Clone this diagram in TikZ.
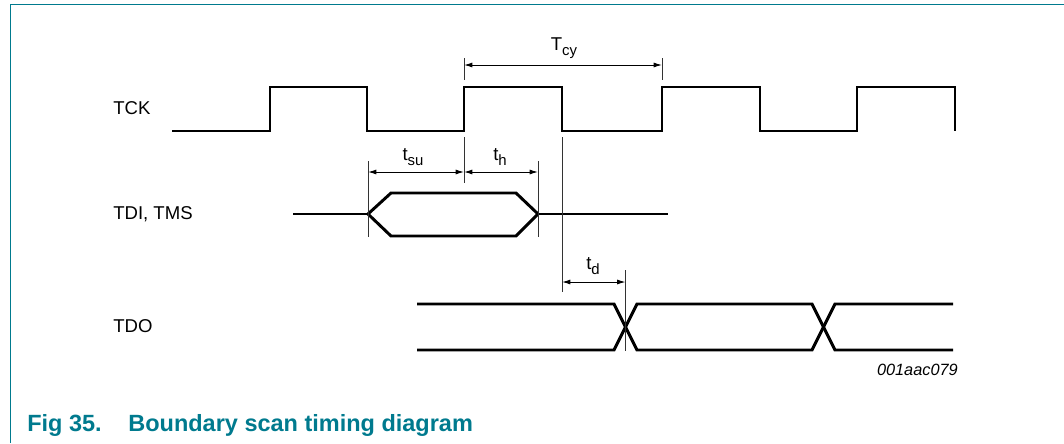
\documentclass[tikz,border=0pt]{standalone}
\usepackage{fontspec}
\setmainfont{Liberation Sans}
\definecolor{nxpteal}{RGB}{0, 122, 142}
\usetikzlibrary{arrows.meta, positioning}
\newcommand{\lowsub}[1]{\raisebox{-3.6pt}{\fontsize{10.6}{12}\selectfont #1}}

\begin{document}
\begin{tikzpicture}[x=0.025cm, y=-0.025cm,
    signal/.style={line width=2.1pt},
    guide/.style={line width=0.7pt, black!80},
    dim/.style={line width=0.7pt, {Latex[length=6pt,width=3.6pt]}-{Latex[length=6pt,width=3.6pt]}},
    sig/.style={font=\fontsize{13.2}{15}\selectfont, anchor=west, inner sep=0pt},
    lbl/.style={font=\fontsize{13.2}{15}\selectfont, inner sep=0pt}]
    \useasboundingbox (0,0) rectangle (1064,443);
    % frame
    \draw[nxpteal, line width=1.4pt] (10.5,443) -- (10.5,4.5) -- (1064,4.5);
    % signal names
    \node[sig] (tck) at (113,108) {TCK};
    \node[sig] (tdi) at (113,214) {TDI, TMS};
    \node[sig] (tdo) at (113,326) {TDO};
    % TCK
    \draw[signal] (172,131) -- (270,131) -- (270,87) -- (367,87) -- (367,131)
        -- (464,131) -- (464,87) -- (562,87) -- (562,131) -- (662,131) -- (662,87)
        -- (760,87) -- (760,131) -- (857,131) -- (857,87) -- (955,87) -- (955,131);
    % TDI, TMS
    \draw[signal] (293,214) -- (368,214);
    \draw[signal] (368,214) -- (391,193) -- (516,193) -- (538,214) -- (516,236) -- (391,236) -- cycle;
    \draw[signal] (538,214) -- (668,214);
    % TDO
    \draw[signal] (417,304) -- (614,304) -- (637,350) -- (812,350) -- (835,304) -- (953,304);
    \draw[signal] (417,350) -- (614,350) -- (637,304) -- (812,304) -- (835,350) -- (953,350);
    % T_cy
    \coordinate (cyL) at (464,65);
    \coordinate (cyR) at (662,65);
    \draw[guide] (464,58) -- (464,80);
    \draw[guide] (662,58) -- (662,80);
    \draw[dim] (cyL) -- (cyR);
    \node[lbl] (tcy) at (564,48) {T\lowsub{cy}};
    % t_su, t_h
    \coordinate (suL) at (368,172);
    \coordinate (suR) at (464,172);
    \coordinate (hR) at (538,172);
    \draw[guide] (464,137) -- (464,183);
    \draw[guide] (368,161) -- (368,237);
    \draw[guide] (538,161) -- (538,237);
    \draw[dim] (suL) -- (suR);
    \draw[dim] (suR) -- (hR);
    \node[lbl] (tsu) at (413,157) {t\lowsub{su}};
    \node[lbl] (th) at (500,157) {t\lowsub{h}};
    % t_d
    \coordinate (dL) at (562,282);
    \coordinate (dR) at (625.5,282);
    \draw[guide] (562,137) -- (562,292);
    \draw[guide] (625.5,270) -- (625.5,351);
    \draw[dim] (dL) -- (dR);
    \node[lbl] (td) at (593,266) {t\lowsub{d}};
    % figure id and caption
    \node[font=\fontsize{11.6}{14}\selectfont\itshape, anchor=base east, inner sep=0pt] (figid) at (958,375) {001aac079};
    \node[font=\fontsize{16.7}{20}\selectfont\bfseries, text=nxpteal, anchor=base west, inner sep=0pt] (caption) at (27,431) {Fig 35.\hspace{19pt}Boundary scan timing diagram};
\end{tikzpicture}
\end{document}
